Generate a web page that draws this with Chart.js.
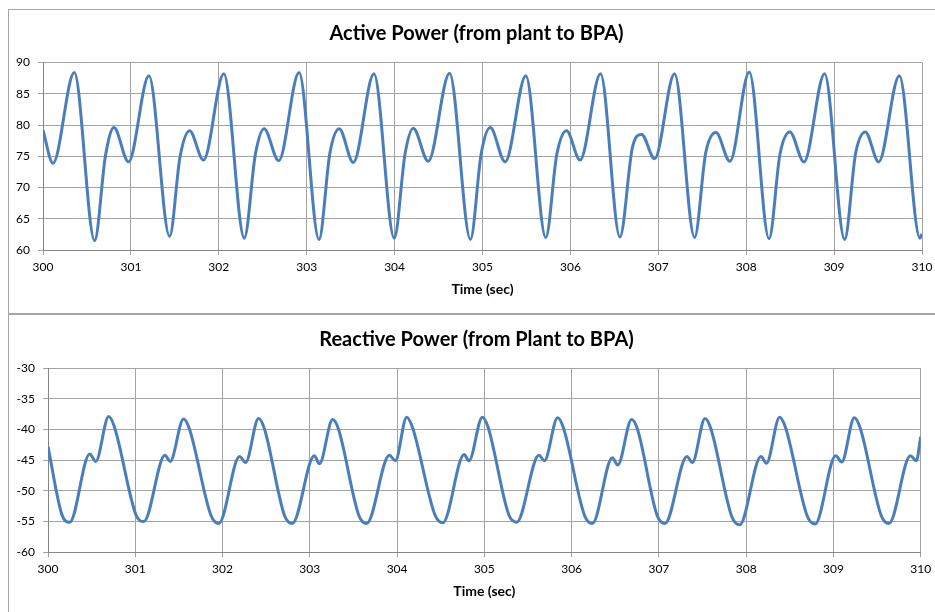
<!DOCTYPE html>
<html>
<head>
<meta charset="utf-8">
<script src="https://cdn.jsdelivr.net/npm/chart.js@4.4.1/dist/chart.umd.min.js"></script>
<style>
  html, body { margin: 0; padding: 0; background: #fff; overflow: hidden; }
  body { width: 935px; height: 612px; position: relative; }
  .frame { position: absolute; left: 8px; width: 1000px; border: 1px solid #a6a6a6; box-sizing: border-box; }
  #frame-top { top: 9px; height: 305px; }
  #frame-bottom { top: 314px; height: 400px; }
  canvas { position: absolute; left: 9px; }
  #active-chart { top: 10px; }
  #reactive-chart { top: 315px; }
</style>
</head>
<body>
<div class="frame" id="frame-top"></div>
<div class="frame" id="frame-bottom"></div>
<canvas id="active-chart" width="935" height="303"></canvas>
<canvas id="reactive-chart" width="935" height="310"></canvas>
<script>
// --- DATA ---
const activeTime = [
  300.000, 300.114, 300.356, 300.587, 300.712, 300.807,
  300.973, 301.205, 301.440, 301.560, 301.667,
  301.826, 302.057, 302.290, 302.417, 302.515,
  302.682, 302.913, 303.140, 303.265, 303.370,
  303.530, 303.765, 303.996, 304.120, 304.212,
  304.383, 304.625, 304.863, 304.985, 305.088,
  305.258, 305.493, 305.720, 305.845, 305.956,
  306.110, 306.343, 306.563, 306.707, 306.810,
  306.958, 307.185, 307.413, 307.540, 307.656,
  307.815, 308.035, 308.260, 308.385, 308.497,
  308.657, 308.892, 309.120, 309.245, 309.355,
  309.507, 309.742, 309.977, 310.000
];
const activeValue = [
  79.2, 73.9, 88.4, 61.5, 75.2, 79.6,
  74.1, 87.9, 62.2, 75.0, 79.1,
  74.4, 88.2, 61.9, 75.4, 79.4,
  74.3, 88.4, 61.7, 75.6, 79.4,
  74.0, 88.2, 61.9, 75.5, 79.5,
  74.2, 88.3, 61.7, 75.4, 79.6,
  74.1, 87.9, 62.0, 75.3, 79.1,
  74.4, 88.2, 62.1, 76.5, 78.5,
  74.6, 88.2, 62.0, 75.6, 78.8,
  74.2, 88.5, 61.8, 75.4, 78.9,
  74.1, 88.2, 61.7, 75.5, 78.9,
  74.1, 87.9, 61.9, 62.6
];

const reactiveTime = [
  300.000, 300.160, 300.249, 300.478, 300.547, 300.696, 300.761,
  301.008, 301.098, 301.340, 301.400, 301.553, 301.618,
  301.868, 301.958, 302.195, 302.264, 302.413, 302.478,
  302.710, 302.800, 303.052, 303.110, 303.262, 303.327,
  303.562, 303.652, 303.912, 303.980, 304.110, 304.175,
  304.434, 304.524, 304.769, 304.824, 304.977, 305.042,
  305.280, 305.370, 305.626, 305.688, 305.840, 305.905,
  306.148, 306.238, 306.467, 306.528, 306.688, 306.753,
  306.980, 307.070, 307.322, 307.383, 307.529, 307.594,
  307.836, 307.926, 308.170, 308.232, 308.384, 308.449,
  308.700, 308.790, 309.026, 309.095, 309.240, 309.305,
  309.547, 309.637, 309.882, 309.950, 310.000
];
const reactiveValue = [
  -42.8, -53.9, -55.1, -44.0, -45.2, -37.9, -39.6,
  -53.9, -55.0, -44.2, -45.2, -38.3, -39.8,
  -54.0, -55.3, -44.4, -45.4, -38.2, -39.8,
  -54.0, -55.3, -44.3, -45.6, -38.4, -39.9,
  -54.0, -55.3, -44.2, -45.1, -38.0, -39.6,
  -53.9, -55.2, -44.1, -45.1, -38.0, -39.6,
  -53.9, -55.1, -44.2, -45.1, -38.1, -39.7,
  -54.0, -55.3, -44.6, -45.8, -38.4, -39.9,
  -54.0, -55.3, -44.4, -45.4, -38.2, -39.8,
  -54.2, -55.5, -44.4, -45.5, -38.0, -39.6,
  -54.1, -55.4, -44.3, -45.3, -38.1, -39.7,
  -54.0, -55.3, -44.3, -45.1, -41.2
];

const timeTicks = { min: 300, max: 310, step: 1 };
const activeTicks = { min: 60, max: 90, step: 5 };
const reactiveTicks = { min: -60, max: -30, step: 5 };

// --- SHARED LOOK ---
const FONT = 'Lato, "Open Sans", "DejaVu Sans", sans-serif';
const lineColor = '#4a7ebb';
const gridColor = '#a3a3a3';
const axisColor = '#868686';

function buildChart(canvasId, title, times, values, yRange, box) {
  const ctx = document.getElementById(canvasId);
  const points = times.map((t, i) => ({ x: t, y: values[i] }));

  return new Chart(ctx, {
    type: 'line',
    data: {
      datasets: [{
        data: points,
        borderColor: lineColor,
        borderWidth: 3,
        pointRadius: 0,
        fill: false,
        cubicInterpolationMode: 'monotone'
      }]
    },
    options: {
      responsive: false,
      animation: false,
      devicePixelRatio: 1,
      layout: { padding: 0 },
      plugins: {
        legend: { display: false },
        tooltip: { enabled: false },
        title: {
          display: true,
          text: title,
          color: '#000',
          font: { family: FONT, size: 20, weight: 'bold', lineHeight: 1.2 },
          padding: { top: box.titleTop, bottom: box.titleBottom }
        }
      },
      scales: {
        x: {
          type: 'linear',
          min: timeTicks.min,
          max: timeTicks.max,
          afterFit: s => { s.height = box.xHeight; },
          grid: { color: gridColor, tickLength: 5, tickColor: gridColor },
          border: { color: axisColor },
          ticks: {
            stepSize: timeTicks.step,
            color: '#000',
            padding: 5,
            maxRotation: 0,
            font: { family: FONT, size: 12 }
          },
          title: {
            display: true,
            text: 'Time (sec)',
            color: '#000',
            font: { family: FONT, size: 14, weight: 'bold', lineHeight: 1.2 },
            padding: { top: 0, bottom: box.axisTitleBottom }
          }
        },
        y: {
          min: yRange.min,
          max: yRange.max,
          afterFit: s => { s.width = box.yWidth; },
          grid: { color: gridColor, tickLength: 5, tickColor: gridColor },
          border: { color: axisColor },
          ticks: {
            stepSize: yRange.step,
            color: '#000',
            padding: 8,
            font: { family: FONT, size: 12 }
          }
        },
        // empty right-hand strip, so the title centres on the whole frame like the original
        spacer: {
          position: 'right',
          afterFit: s => { s.width = box.rightWidth; },
          grid: { display: false },
          border: { display: false },
          ticks: { display: false }
        }
      }
    }
  });
}

buildChart('active-chart', 'Active Power (from plant to BPA)', activeTime, activeValue, activeTicks,
  { rightWidth: 22, yWidth: 34, xHeight: 63, titleTop: 12, titleBottom: 16.6, axisTitleBottom: 15.6 });

buildChart('reactive-chart', 'Reactive Power (from Plant to BPA)', reactiveTime, reactiveValue, reactiveTicks,
  { rightWidth: 23.3, yWidth: 39, xHeight: 72.7, titleTop: 13, titleBottom: 16, axisTitleBottom: 24.9 });
</script>
</body>
</html>
